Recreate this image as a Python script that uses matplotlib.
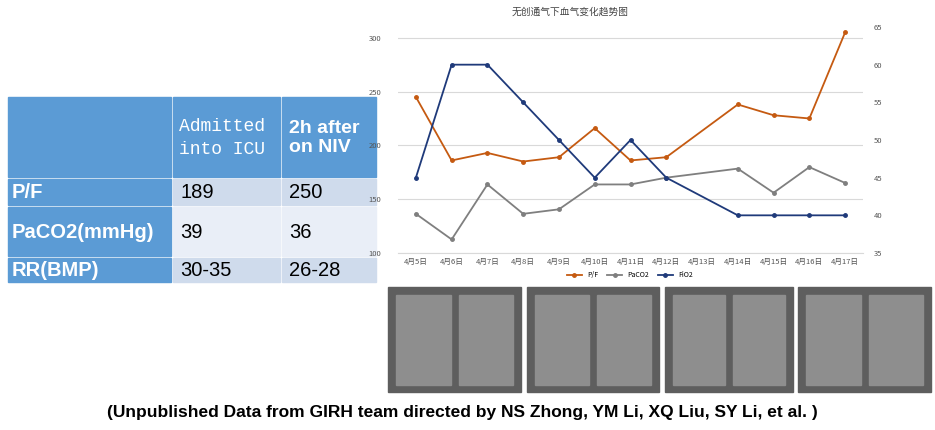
import numpy as np
import matplotlib.pyplot as plt
from matplotlib.patches import Rectangle

plt.rcParams['font.family'] = ['Noto Sans CJK SC', 'DejaVu Sans']

# ── Data ──
dates = ["4月5日", "4月6日", "4月7日", "4月8日", "4月9日", "4月10日", "4月11日",
         "4月12日", "4月13日", "4月14日", "4月15日", "4月16日", "4月17日"]
pf = [245, 186, 193, 185, 189, 216, 186, 189, None, 238, 228, 225, 305]
paco2 = [40.2, 36.8, 44.1, 40.2, 40.8, 44.1, 44.1, 45.0, None, 46.2, 43.0, 46.4, 44.3]
fio2 = [45, 60, 60, 55, 50, 45, 50, 45, None, 40, 40, 40, 40]

tbl_cols = ["", "Admitted\ninto ICU", "2h after\non NIV"]
tbl_rows = ["P/F", "PaCO2(mmHg)", "RR(BMP)"]
tbl_icu = ["189", "39", "30-35"]
tbl_niv = ["250", "36", "26-28"]

W, H = 935, 430
fig = plt.figure(figsize=(W / 100, H / 100), dpi=100)
bg = fig.add_axes([0, 0, 1, 1])
bg.set_xlim(0, W)
bg.set_ylim(H, 0)
bg.axis("off")

# ── Table ──
blue = "#5b9bd5"
xs = [8, 173, 282, 378]
ys = [97, 179, 207, 258, 284]
row_fill = ["#cfdbec", "#e9eef7", "#cfdbec"]
for c in range(3):
    bg.add_patch(Rectangle((xs[c], ys[0]), xs[c + 1] - xs[c] - 2, ys[1] - ys[0] - 2,
                           color=blue))
bg.text(xs[1] + 6, (ys[0] + ys[1]) / 2, tbl_cols[1], color="white", fontsize=13,
        family="Liberation Mono", va="center", ha="left", linespacing=1.4)
bg.text(xs[2] + 7, (ys[0] + ys[1]) / 2, tbl_cols[2], color="white", fontsize=14,
        family="Liberation Sans", weight="bold", va="center", ha="left", linespacing=1.2)
for r in range(3):
    y0, y1 = ys[r + 1], ys[r + 2]
    bg.add_patch(Rectangle((xs[0], y0), xs[1] - xs[0] - 2, y1 - y0 - 2, color=blue))
    bg.add_patch(Rectangle((xs[1], y0), xs[2] - xs[1] - 2, y1 - y0 - 2, color=row_fill[r]))
    bg.add_patch(Rectangle((xs[2], y0), xs[3] - xs[2] - 2, y1 - y0 - 2, color=row_fill[r]))
    ym = (y0 + y1) / 2
    bg.text(xs[0] + 4, ym, tbl_rows[r], color="white", fontsize=14.5, weight="bold",
            family="Liberation Sans", va="center")
    bg.text(xs[1] + 7, ym, tbl_icu[r], color="black", fontsize=14.5,
            family="Liberation Sans", va="center")
    bg.text(xs[2] + 7, ym, tbl_niv[r], color="black", fontsize=14.5,
            family="Liberation Sans", va="center")

# ── X-ray placeholders ──
for x0, x1 in [(388, 521), (527, 659), (665, 793), (798, 931)]:
    bg.add_patch(Rectangle((x0, 287), x1 - x0, 105, color="#5e5e5e"))
    bg.add_patch(Rectangle((x0 + 8, 295), (x1 - x0) / 2 - 12, 90, color="#8e8e8e"))
    bg.add_patch(Rectangle((x0 + (x1 - x0) / 2 + 4, 295), (x1 - x0) / 2 - 12, 90, color="#8e8e8e"))

bg.text(462, 413, "(Unpublished Data from GIRH team directed by NS Zhong, YM Li, XQ Liu, SY Li, et al. )",
        fontsize=12.5, weight="bold", family="Liberation Sans", ha="center", va="center")

# ── Line chart ──
ax = fig.add_axes([398 / W, 1 - 253 / H, (863 - 398) / W, (253 - 27) / H])
ax2 = ax.twinx()
x = np.arange(len(dates))

def valid(vals):
    idx = [i for i, v in enumerate(vals) if v is not None]
    return idx, [vals[i] for i in idx]

i1, v1 = valid(pf)
i2, v2 = valid(paco2)
i3, v3 = valid(fio2)
l1, = ax.plot(i1, v1, color="#c55a11", lw=1.3, marker="o", ms=2.5, label="P/F")
l2, = ax2.plot(i2, v2, color="#7f7f7f", lw=1.3, marker="o", ms=2.5, label="PaCO2")
l3, = ax2.plot(i3, v3, color="#1f3a7a", lw=1.3, marker="o", ms=2.5, label="FiO2")

ax.set_xlim(-0.5, len(dates) - 0.5)
ax.set_ylim(100, 310)
ax.set_yticks([100, 150, 200, 250, 300])
ax2.set_ylim(35, 65)
ax2.set_yticks([35, 40, 45, 50, 55, 60, 65])
ax.set_xticks(x)
ax.set_xticklabels(dates)
ax.grid(axis="y", color="#d9d9d9", lw=0.8)
ax.set_axisbelow(True)
for a in (ax, ax2):
    for s in a.spines.values():
        s.set_visible(False)
    a.tick_params(length=0, labelsize=5.5, colors="#555555")
ax.spines["bottom"].set_visible(True)
ax.spines["bottom"].set_color("#d9d9d9")
ax.tick_params(axis="y", pad=12)
ax2.tick_params(axis="y", pad=8)

fig.text(570 / W, 1 - 12 / H, "无创通气下血气变化趋势图", fontsize=7, color="#444444",
         ha="center", va="center")
fig.legend(handles=[l1, l2, l3], loc="center", bbox_to_anchor=(630 / W, 1 - 275 / H),
           ncol=3, frameon=False, fontsize=5, handlelength=2.2, columnspacing=1.2)

fig.savefig("out.png", dpi=100)
